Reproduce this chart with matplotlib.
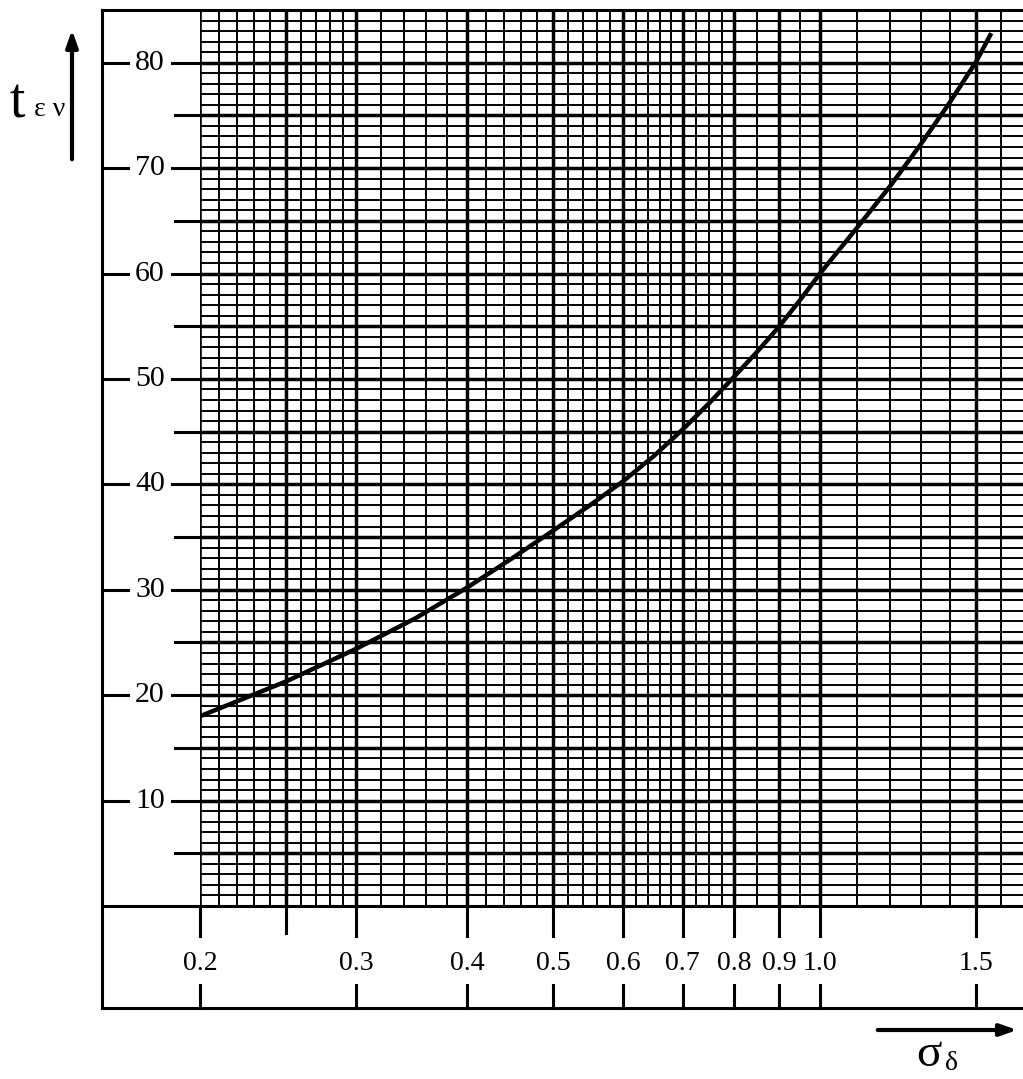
import numpy as np
import matplotlib.pyplot as plt
from matplotlib.lines import Line2D
from matplotlib.transforms import blended_transform_factory

plt.rcParams['font.family'] = ['Liberation Serif', 'DejaVu Serif']

# curve
sigma = [0.2, 0.25, 0.3, 0.35, 0.4, 0.45, 0.5, 0.55, 0.6, 0.65, 0.7, 0.75, 0.8,
         0.85, 0.9, 0.95, 1.0, 1.1, 1.2, 1.3, 1.4, 1.5, 1.56]
t_en = [18.0, 21.3, 24.4, 27.3, 30.2, 33.0, 35.6, 38.0, 40.3, 42.7, 45.2, 47.7, 50.2,
        52.6, 55.0, 57.5, 60.0, 64.3, 68.3, 72.3, 76.2, 80.1, 82.8]

x_ticks = [0.2, 0.3, 0.4, 0.5, 0.6, 0.7, 0.8, 0.9, 1.0, 1.5]
x_tick_labels = ['0.2', '0.3', '0.4', '0.5', '0.6', '0.7', '0.8', '0.9', '1.0', '1.5']
y_ticks = [10, 20, 30, 40, 50, 60, 70, 80]
y_half_ticks = [5, 15, 25, 35, 45, 55, 65, 75]

W, H = 1023, 1079
fig = plt.figure(figsize=(W / 100, H / 100), dpi=100)
ax = fig.add_axes([200 / W, 1 - 906 / H, (1023 - 200) / W, (906 - 10) / H])
ax.set_xscale('log')
ax.set_xlim(0.2, 1.694)
ax.set_ylim(0, 85)
ax.axis('off')

# vertical grid (log paper)
v_thin = list(np.arange(0.21, 0.295, 0.01)) + list(np.arange(0.32, 0.695, 0.02)) + \
    [0.725, 0.75, 0.775, 0.85, 0.95] + list(np.arange(1.1, 1.75, 0.1))
v_thick = [0.25, 0.3, 0.4, 0.5, 0.6, 0.7, 0.8, 0.9, 1.0, 1.5]
for v in v_thin:
    if min(abs(v - t) for t in v_thick) > 1e-6:
        ax.axvline(v, color='black', lw=1.4)
for v in v_thick:
    ax.axvline(v, color='black', lw=2.5)
ax.axvline(0.2, color='black', lw=2.6)

# horizontal grid
for h in range(1, 85):
    ax.axhline(h, color='black', lw=2.5 if h % 5 == 0 else 1.4)

ax.plot(sigma, t_en, color='black', lw=3.2, solid_capstyle='butt')

# frame
def fpt(x, y):
    return x / W, 1 - y / H

frame_kw = dict(color='black', lw=2.2, transform=fig.transFigure)
for (x0, y0), (x1, y1) in [((102, 10), (102, 1008)), ((102, 10), (1023, 10)),
                           ((102, 906), (1023, 906)), ((102, 1008), (1023, 1008))]:
    a, b = fpt(x0, y0), fpt(x1, y1)
    fig.add_artist(Line2D([a[0], b[0]], [a[1], b[1]], **frame_kw))

# x ticks in the label band
tx = blended_transform_factory(ax.transData, fig.transFigure)
for v, lab in zip(x_ticks, x_tick_labels):
    ax.add_line(Line2D([v, v], [1 - 906 / H, 1 - 936 / H], color='black', lw=2.2,
                       transform=tx, clip_on=False))
    ax.add_line(Line2D([v, v], [1 - 985 / H, 1 - 1008 / H], color='black', lw=2.2,
                       transform=tx, clip_on=False))
    ax.text(v, 1 - 963 / H, lab, transform=tx, ha='center', va='center', fontsize=20)
ax.add_line(Line2D([0.25, 0.25], [1 - 906 / H, 1 - 933 / H], color='black', lw=2.2,
                   transform=tx, clip_on=False))

# y ticks on the left band
ty = blended_transform_factory(fig.transFigure, ax.transData)
for v in y_ticks:
    ax.add_line(Line2D([102 / W, 128 / W], [v, v], color='black', lw=2.2,
                       transform=ty, clip_on=False))
    ax.add_line(Line2D([172 / W, 200 / W], [v, v], color='black', lw=2.2,
                       transform=ty, clip_on=False))
    ax.text(150 / W, v, str(v), transform=ty, ha='center', va='center', fontsize=21.5)
for v in y_half_ticks:
    ax.add_line(Line2D([175 / W, 200 / W], [v, v], color='black', lw=2.2,
                       transform=ty, clip_on=False))

# axis names with arrows
fig.text(*fpt(9, 117), 't', fontsize=40, ha='left', va='baseline')
fig.text(*fpt(34, 116), 'ε ν', fontsize=20, ha='left', va='baseline')
fig.add_artist(plt.Annotation('', xy=fpt(72, 27), xytext=fpt(72, 162),
                              xycoords='figure fraction', textcoords='figure fraction',
                              arrowprops=dict(arrowstyle='-|>,head_length=1.0,head_width=0.35',
                                              color='black', lw=3)))
fig.add_artist(plt.Annotation('', xy=fpt(1020, 1030), xytext=fpt(875, 1030),
                              xycoords='figure fraction', textcoords='figure fraction',
                              arrowprops=dict(arrowstyle='-|>,head_length=1.0,head_width=0.35',
                                              color='black', lw=3)))
fig.text(*fpt(916, 1066), 'σ', fontsize=34, ha='left', va='baseline')
fig.text(*fpt(945, 1070), 'δ', fontsize=20, ha='left', va='baseline')

fig.savefig('out.png', dpi=100)
